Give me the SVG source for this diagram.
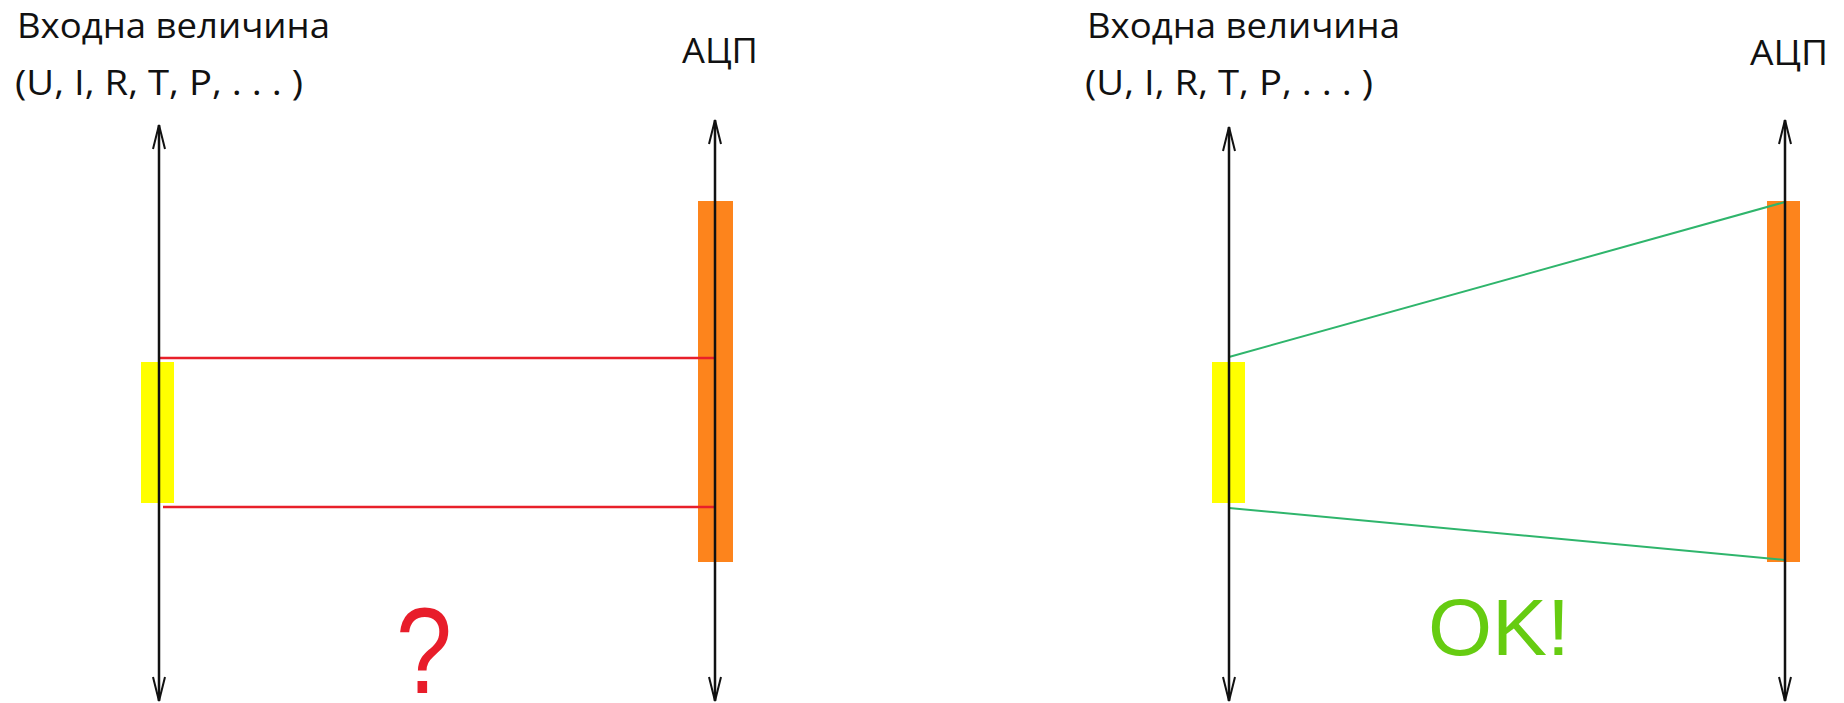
<svg xmlns="http://www.w3.org/2000/svg" width="1844" height="703" viewBox="0 0 1844 703">
  <style>
    .label { font-family: "Open Sans", "Liberation Sans", sans-serif; font-size: 35px; fill: #111; }
    .axis { stroke: #111; stroke-width: 2.5; fill: none; }
    .input { fill: #ffff00; }
    .adc { fill: #fd841c; }
    .bad { stroke: #e8202a; stroke-width: 2.5; fill: none; }
    .good { stroke: #2fb56c; stroke-width: 2; fill: none; }
    .ink-red { font-family: "Liberation Sans", sans-serif; fill: #e81d2a; }
    .ink-green { font-family: "Liberation Sans", sans-serif; fill: #66cc11; }
  </style>
  <defs>
    <marker id="head" viewBox="-26 -8 28 16" refX="0" refY="0" markerWidth="28" markerHeight="16" markerUnits="userSpaceOnUse" orient="auto-start-reverse">
      <path d="M-24,-6 L0,0 L-24,6" fill="none" stroke="#111" stroke-width="2"/>
    </marker>
  </defs>
  <rect width="1844" height="703" fill="#ffffff"/>

  <!-- Left panel: input range mapped straight across -->
  <g id="left-input-label">
    <text class="label" x="17" y="38" textLength="313" lengthAdjust="spacingAndGlyphs">Входна величина</text>
    <text class="label" x="15" y="95" textLength="288" lengthAdjust="spacingAndGlyphs">(U, I, R, T, P, . . . )</text>
  </g>
  <g id="left-adc-label">
    <text class="label" x="682" y="63" textLength="76" lengthAdjust="spacingAndGlyphs">АЦП</text>
  </g>
  <g id="left-input-range">
    <rect class="input" x="141" y="362" width="33" height="141"/>
  </g>
  <g id="left-adc-range">
    <rect class="adc" x="698" y="201" width="35" height="361"/>
  </g>
  <g id="left-question">
    <text class="ink-red" x="396" y="693" font-size="122" textLength="56" lengthAdjust="spacingAndGlyphs">?</text>
  </g>

  <!-- Right panel: input range stretched over the full ADC range -->
  <g id="right-input-label">
    <text class="label" x="1087" y="38" textLength="313" lengthAdjust="spacingAndGlyphs">Входна величина</text>
    <text class="label" x="1085" y="95" textLength="288" lengthAdjust="spacingAndGlyphs">(U, I, R, T, P, . . . )</text>
  </g>
  <g id="right-adc-label">
    <text class="label" x="1750" y="65" textLength="78" lengthAdjust="spacingAndGlyphs">АЦП</text>
  </g>
  <g id="right-input-range">
    <rect class="input" x="1212" y="362" width="33" height="141"/>
  </g>
  <g id="right-adc-range">
    <rect class="adc" x="1767" y="201" width="33" height="361"/>
  </g>
  <g id="right-ok">
    <text class="ink-green" x="1428" y="655" font-size="80" textLength="142" lengthAdjust="spacingAndGlyphs">OK!</text>
  </g>

  <g id="connectors">
    <line class="bad" x1="159" y1="358" x2="715" y2="358"/>
    <line class="bad" x1="163" y1="507" x2="715" y2="507"/>
    <line class="good" x1="1229" y1="357" x2="1785" y2="202"/>
    <line class="good" x1="1229" y1="508" x2="1785" y2="560"/>
    <line class="axis" x1="159" y1="125" x2="159" y2="701" marker-start="url(#head)" marker-end="url(#head)"/>
    <line class="axis" x1="715" y1="120" x2="715" y2="701" marker-start="url(#head)" marker-end="url(#head)"/>
    <line class="axis" x1="1229" y1="127" x2="1229" y2="701" marker-start="url(#head)" marker-end="url(#head)"/>
    <line class="axis" x1="1785" y1="120" x2="1785" y2="701" marker-start="url(#head)" marker-end="url(#head)"/>
  </g>
</svg>
